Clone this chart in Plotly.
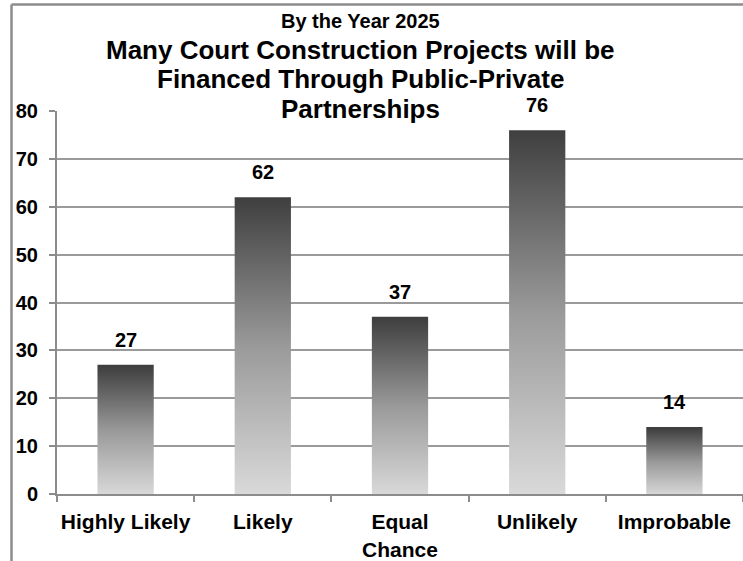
import plotly.graph_objects as go

# Survey results
categories = ["Highly Likely", "Likely", "Equal<br>Chance", "Unlikely", "Improbable"]
responses = [27, 62, 37, 76, 14]
y_ticks = [0, 10, 20, 30, 40, 50, 60, 70, 80]

title_top = "By the Year 2025"
title_lines = [
    "Many Court Construction Projects will be",
    "Financed Through Public-Private",
    "Partnerships",
]

W, H = 743, 561
ML, MR, MT, MB = 57, 0, 111, 65
PW, PH = W - ML - MR, H - MT - MB

FONT = "Liberation Sans, Arial, sans-serif"
AXIS_GREY = "#8c8c8c"
BAR_WIDTH = 0.41


def px_to_paper_x(px):
    return (px - ML) / PW


def px_to_paper_y(py):
    return (H - MB - py) / PH


fig = go.Figure()

# Each column is a filled polygon with its own vertical grey gradient
for i, v in enumerate(responses):
    x0, x1 = i - BAR_WIDTH / 2, i + BAR_WIDTH / 2
    fig.add_trace(go.Scatter(
        x=[x0, x1, x1, x0, x0],
        y=[0, 0, v, v, 0],
        mode="lines",
        line=dict(width=0),
        fill="toself",
        fillgradient=dict(
            type="vertical",
            start=0,
            stop=v,
            colorscale=[[0, "#dadada"], [0.5, "#9a9a9a"], [1, "#3f3f3f"]],
        ),
        hoverinfo="skip",
        showlegend=False,
    ))

annotations = []
# Value labels above each column
for i, v in enumerate(responses):
    annotations.append(dict(
        x=i, y=v, xref="x", yref="y", text=f"<b>{v}</b>", showarrow=False,
        yanchor="middle", yshift=25,
        font=dict(family=FONT, size=20, color="black"),
    ))

# Title block
cx = px_to_paper_x(360)
annotations.append(dict(
    x=cx, y=px_to_paper_y(21), xref="paper", yref="paper",
    text=f"<b>{title_top}</b>", showarrow=False, yanchor="middle",
    font=dict(family=FONT, size=20, color="black"),
))
for k, line in enumerate(title_lines):
    annotations.append(dict(
        x=cx, y=px_to_paper_y(49.6 + 29.5 * k), xref="paper", yref="paper",
        text=f"<b>{line}</b>", showarrow=False, yanchor="middle",
        font=dict(family=FONT, size=26, color="black"),
    ))

# Outer chart frame (top and left edges)
frame_left = px_to_paper_x(11.5)
frame_top = px_to_paper_y(4)
shapes = [
    dict(type="line", xref="paper", yref="paper", x0=frame_left, x1=1.05,
         y0=frame_top, y1=frame_top, line=dict(color=AXIS_GREY, width=2.5)),
    dict(type="line", xref="paper", yref="paper", x0=frame_left, x1=frame_left,
         y0=frame_top, y1=px_to_paper_y(H + 10), line=dict(color=AXIS_GREY, width=2.5)),
]

n = len(categories)
fig.update_layout(
    width=W, height=H,
    margin=dict(l=ML, r=MR, t=MT, b=MB, pad=0),
    paper_bgcolor="white",
    plot_bgcolor="white",
    font=dict(family=FONT, color="black"),
    annotations=annotations,
    shapes=shapes,
    xaxis=dict(
        range=[-0.5, n - 0.5],
        tickmode="array",
        tickvals=list(range(n)),
        ticktext=[f"<b>{c}</b>" for c in categories],
        ticks="",
        showgrid=False,
        zeroline=False,
        showline=True,
        linecolor=AXIS_GREY,
        linewidth=2,
        tickfont=dict(family=FONT, size=21, color="black"),
        ticklabelstandoff=8,
        minor=dict(
            tickmode="array",
            tickvals=[i - 0.5 for i in range(n + 1)],
            ticks="outside",
            ticklen=6,
            tickwidth=1.5,
            tickcolor=AXIS_GREY,
            showgrid=False,
        ),
        fixedrange=True,
    ),
    yaxis=dict(
        range=[0, 80],
        tickmode="array",
        tickvals=y_ticks,
        ticktext=[f"<b>{t}</b>" for t in y_ticks],
        ticks="outside",
        ticklen=6,
        tickwidth=1.5,
        tickcolor=AXIS_GREY,
        showgrid=True,
        gridcolor="#9a9a9a",
        gridwidth=2,
        zeroline=False,
        showline=True,
        linecolor=AXIS_GREY,
        linewidth=2,
        tickfont=dict(family=FONT, size=20, color="black"),
        ticklabelstandoff=7,
        fixedrange=True,
    ),
)

fig.write_html("out.html")
